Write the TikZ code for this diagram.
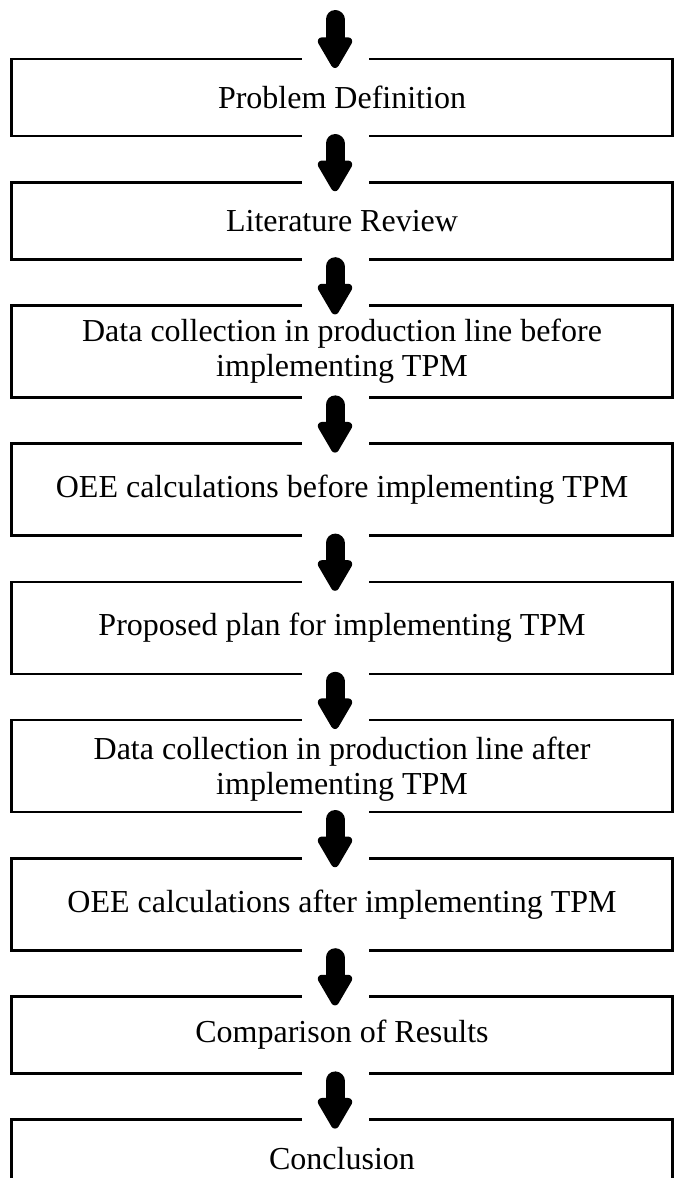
\documentclass[tikz,border=0pt]{standalone}
\usepackage{fontspec}
\setmainfont{Liberation Serif}
\usepackage{tikz}
\usetikzlibrary{arrows.meta,positioning}

\begin{document}
\begin{tikzpicture}[
        % Styles
        stepbox/.style={
            rectangle,
            draw=black,
            line width=1.3pt,
            minimum width=330.5pt,
            minimum height=38.5pt,
            align=center,
            font=\fontsize{16}{17.5}\selectfont
        },
        tallbox/.style={
            stepbox,
            minimum height=46pt
        },
        arrow/.style={
            line width=9.5pt,
            line cap=round,
            -{Triangle[width=19pt,length=17.5pt,line width=4pt,round]},
            preaction={draw=white, line width=33.5pt, line cap=butt, -, shorten <=-6.5pt}
        }
    ]

    % Page frame
    \useasboundingbox (0,0) rectangle (339pt,-589pt);
    \clip (0,0) rectangle (339pt,-589pt);

    % Steps
    \node[stepbox] (problem) at (171pt,-48.75pt) {Problem Definition};
    \node[stepbox, below=21.8pt of problem] (review) {Literature Review};
    \node[tallbox, below=21.8pt of review] (databefore) {Data collection in production line before\\implementing TPM};
    \node[tallbox, below=21.8pt of databefore] (oeebefore) {OEE calculations before implementing TPM};
    \node[tallbox, below=21.8pt of oeebefore] (plan) {Proposed plan for implementing TPM};
    \node[tallbox, text depth=0pt, below=21.8pt of plan] (dataafter) {Data collection in production line after\\implementing TPM};
    \node[tallbox, below=21.8pt of dataafter] (oeeafter) {OEE calculations after implementing TPM};
    \node[stepbox, below=21.8pt of oeeafter] (compare) {Comparison of Results};
    \node[stepbox, below=21.8pt of compare] (conclusion) {Conclusion};

    % Entry point above the first step
    \coordinate (start) at (167.5pt,-9.75pt);

    % Block arrows
    \draw[arrow] (start) -- ([xshift=-3.5pt,yshift=-5.15pt]problem.north);
    \draw[arrow] ([xshift=-3.5pt,yshift=-3.1pt]problem.south) -- ([xshift=-3.5pt,yshift=-5.15pt]review.north);
    \draw[arrow] ([xshift=-3.5pt,yshift=-3.1pt]review.south) -- ([xshift=-3.5pt,yshift=-5.15pt]databefore.north);
    \draw[arrow] ([xshift=-3.5pt,yshift=-3.1pt]databefore.south) -- ([xshift=-3.5pt,yshift=-5.15pt]oeebefore.north);
    \draw[arrow] ([xshift=-3.5pt,yshift=-3.1pt]oeebefore.south) -- ([xshift=-3.5pt,yshift=-5.15pt]plan.north);
    \draw[arrow] ([xshift=-3.5pt,yshift=-3.1pt]plan.south) -- ([xshift=-3.5pt,yshift=-5.15pt]dataafter.north);
    \draw[arrow] ([xshift=-3.5pt,yshift=-3.1pt]dataafter.south) -- ([xshift=-3.5pt,yshift=-5.15pt]oeeafter.north);
    \draw[arrow] ([xshift=-3.5pt,yshift=-3.1pt]oeeafter.south) -- ([xshift=-3.5pt,yshift=-5.15pt]compare.north);
    \draw[arrow] ([xshift=-3.5pt,yshift=-3.1pt]compare.south) -- ([xshift=-3.5pt,yshift=-5.15pt]conclusion.north);

\end{tikzpicture}
\end{document}
